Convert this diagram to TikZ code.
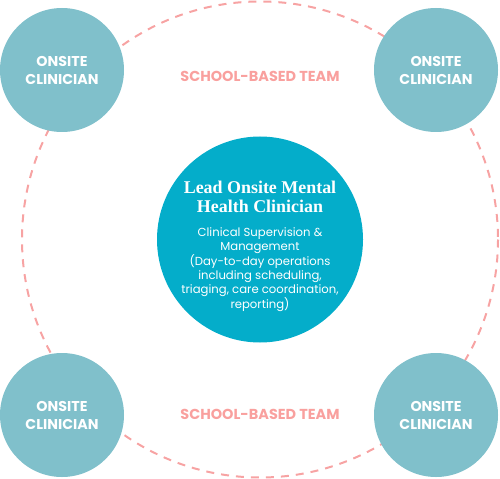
\documentclass[tikz,border=0pt]{standalone}
\usepackage{fontspec}
\setmainfont{Poppins}
\newfontfamily\titlefont{Liberation Serif}
\definecolor{smallc}{HTML}{80C0CB}
\definecolor{bigc}{HTML}{04ADCA}
\definecolor{dashc}{HTML}{F7A3A3}
\definecolor{teamc}{HTML}{F9A09E}
\begin{document}
\begin{tikzpicture}[x=1bp,y=-1bp,
  onsite/.style={circle,fill=smallc,minimum size=124bp,inner sep=0pt,
    text=white,align=center,font=\fontsize{14.3}{18}\selectfont\bfseries},
  leadc/.style={circle,fill=bigc,minimum size=206bp,inner sep=0pt},
  teamlabel/.style={text=teamc,font=\fontsize{14.5}{15}\selectfont\bfseries},
  ring/.style={draw=dashc,line width=2bp,dash pattern=on 8bp off 7bp}]
\useasboundingbox (0,0) rectangle (500,479);
\draw[ring] (260,239.5) circle[radius=238];
\node[onsite] (tl) at (62,70) {ONSITE\\CLINICIAN};
\node[onsite] (tr) at (436,70) {ONSITE\\CLINICIAN};
\node[onsite] (bl) at (62,415) {ONSITE\\CLINICIAN};
\node[onsite] (br) at (436,415) {ONSITE\\CLINICIAN};
\node[teamlabel] (t1) at (260,76) {SCHOOL-BASED TEAM};
\node[teamlabel] (t2) at (260,414) {SCHOOL-BASED TEAM};
\node[leadc] (lead) at (260,239.5) {};
\node[text=white,align=center,font=\titlefont\bfseries\fontsize{18}{19.5}\selectfont] (title) at (260,197) {Lead Onsite Mental\\Health Clinician};
\node[text=white,align=center,font=\fontsize{11.7}{14.4}\selectfont] (body) at (260,269.5) {Clinical Supervision \&\\Management\\(Day-to-day operations\\including scheduling,\\triaging, care coordination,\\reporting)};
\end{tikzpicture}
\end{document}
